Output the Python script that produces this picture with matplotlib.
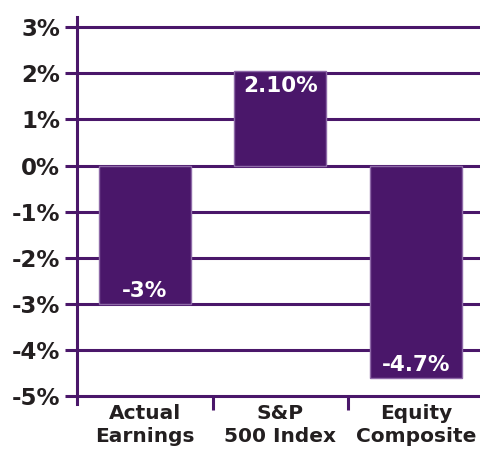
import matplotlib
matplotlib.use('Agg')
import matplotlib.pyplot as plt

# ── data ─────────────────────────────────────────────────────────────────────
categories = ['Actual\nEarnings', 'S&P\n500 Index', 'Equity\nComposite']
values     = [-3.0, 2.05, -4.6]
bar_labels = ['-3%', '2.10%', '-4.7%']
yticks     = [3, 2, 1, 0, -1, -2, -3, -4, -5]
ytick_text = ['3%', '2%', '1%', '0%', '-1%', '-2%', '-3%', '-4%', '-5%']

PURPLE = '#4a176a'
EDGE   = '#8e6aa8'
TEXT   = '#231f20'

fig = plt.figure(figsize=(4.8, 4.49), dpi=100)
ax = fig.add_axes([77 / 480, (449 - 404) / 449, (480 - 77) / 480, (404 - 17) / 449])

# gridlines (drawn under bars)
for y in yticks:
    ax.axhline(y, color=PURPLE, linewidth=2.2, zorder=1)

x = list(range(len(categories)))
ax.bar(x, values, width=0.68, color=PURPLE, edgecolor=EDGE, linewidth=1.0, zorder=2)

# value labels inside bars
for xi, v, lab in zip(x, values, bar_labels):
    if v >= 0:
        ax.text(xi, v - 0.1, lab, ha='center', va='top', color='white',
                fontsize=15.5, fontweight='bold', zorder=3)
    else:
        ax.text(xi, v + 0.06, lab, ha='center', va='bottom', color='white',
                fontsize=15.5, fontweight='bold', zorder=3)

ax.set_xlim(-0.5, -0.5 + (480 - 77) / 135.5)
ax.set_ylim(-5.17, 3.22)

# axes styling
for s in ['top', 'right', 'bottom']:
    ax.spines[s].set_visible(False)
ax.spines['left'].set_color(PURPLE)
ax.spines['left'].set_linewidth(2.2)

ax.set_yticks(yticks)
ax.set_yticklabels(ytick_text, fontsize=16.5, fontweight='bold', color=TEXT)
ax.tick_params(axis='y', length=9, width=2.2, color=PURPLE, pad=3)

ax.set_xticks(x)
ax.set_xticklabels(categories, fontsize=14.5, fontweight='bold', color=TEXT,
                   linespacing=1.25)
ax.tick_params(axis='x', length=0, pad=0)

# category separators below the axis
ax.vlines([0.5, 1.5], -5.3, -5.0, color=PURPLE, linewidth=2.2, clip_on=False)

fig.savefig('out.png', dpi=100)
